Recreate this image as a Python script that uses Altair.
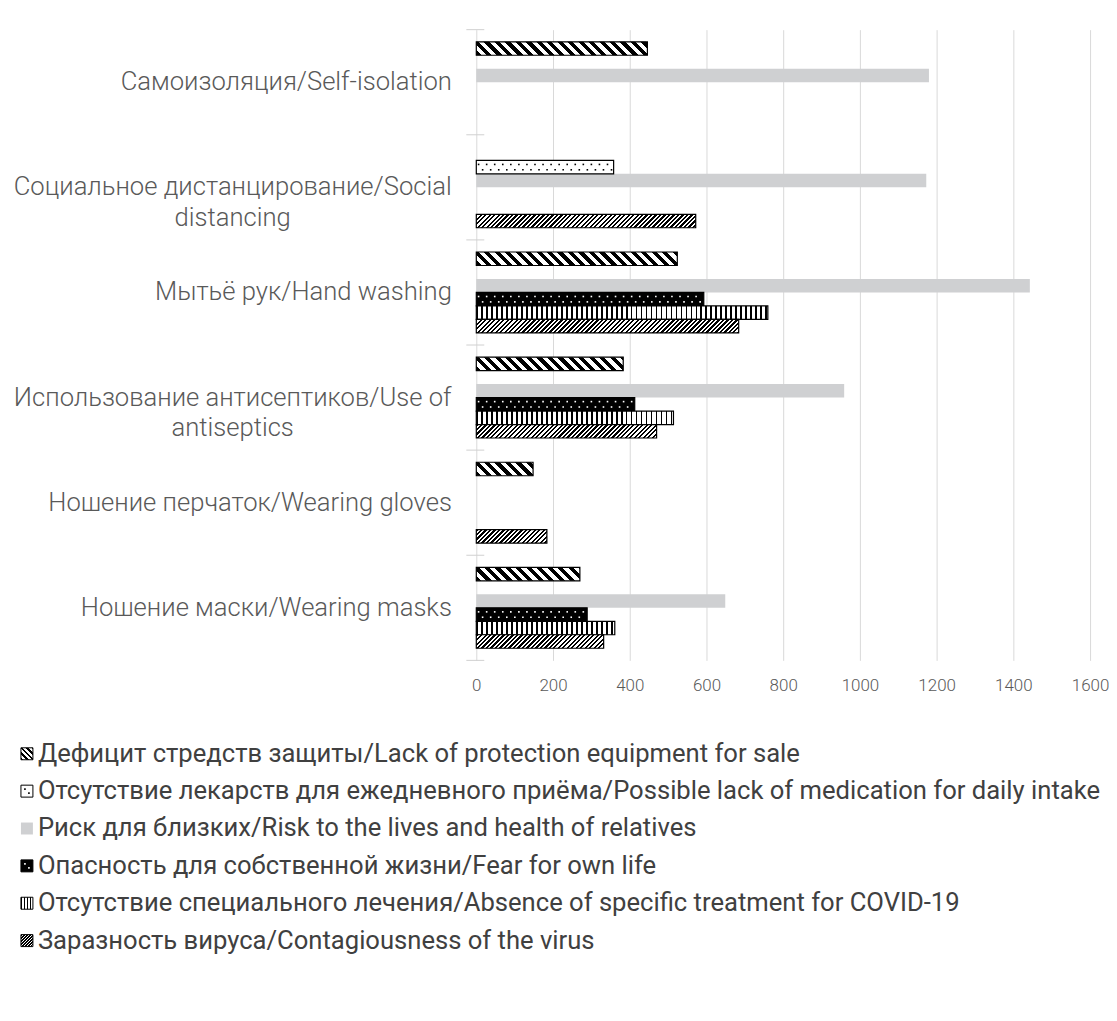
import altair as alt
import pandas as pd

# ---------------- data ----------------
categories = [
    "Самоизоляция/Self-isolation",
    "Социальное дистанцирование/Social|distancing",
    "Мытьё рук/Hand washing",
    "Использование антисептиков/Use of|antiseptics",
    "Ношение перчаток/Wearing gloves",
    "Ношение маски/Wearing masks",
]
series = [
    "Дефицит стредств защиты/Lack of protection equipment for sale",
    "Отсутствие лекарств для ежедневного приёма/Possible lack of medication for daily intake",
    "Риск для близких/Risk to the lives and health of relatives",
    "Опасность для собственной жизни/Fear for own life",
    "Отсутствие специального лечения/Absence of specific treatment for COVID-19",
    "Заразность вируса/Contagiousness of the virus",
]
lack_protection = [446, 0, 524, 383, 148, 270]
lack_medication = [0, 358, 0, 0, 0, 0]
risk_relatives = [1180, 1173, 1443, 959, 0, 649]
fear_own_life = [0, 0, 593, 413, 0, 289]
absence_treatment = [0, 0, 760, 514, 0, 361]
contagiousness = [0, 572, 684, 470, 184, 332]
x_ticks = [0, 200, 400, 600, 800, 1000, 1200, 1400, 1600]

values = [lack_protection, lack_medication, risk_relatives,
          fear_own_life, absence_treatment, contagiousness]
rows = []
for si, vals in enumerate(values):
    for ci, v in enumerate(vals):
        rows.append({"cat": categories[ci], "series": series[si],
                     "ci": ci, "si": si, "value": v})
df = pd.DataFrame(rows)
cat_df = pd.DataFrame({"cat": categories})
leg_df = pd.DataFrame({"series": series, "si": list(range(len(series)))})

# ---------------- layout / style ----------------
PLOT_W, PLOT_H = 616, 633
XMAX = 1600
PAD_OUT = 0.9
BAR_H = PLOT_H / len(categories) / (len(series) + 2 * PAD_OUT)
PX = PLOT_W / XMAX
GRAY = "#cfd0d2"
FONT = "Roboto"
FS = 25.7


def stripe_grad(kind, W, H, period, frac, ink="black", paper="white"):
    if kind == "v":
        x1, y1, x2, y2 = 0, 0, 1, 0
        L = W
    else:
        lam = (W + H) / (W + H * H / W)
        if kind == "back":
            x1, y1, x2, y2 = 0, 1, lam, 1 - lam * H / W
        else:
            x1, y1, x2, y2 = 0, 0, lam, lam * H / W
        L = W + H
    p = period / L
    stops = []
    i = 0
    while i * p < 1:
        a = round(i * p, 5)
        b = round(min((i + frac) * p, 1), 5)
        c = round(min((i + 1) * p, 1), 5)
        stops += [{"offset": a, "color": ink}, {"offset": b, "color": ink},
                  {"offset": b, "color": paper}, {"offset": c, "color": paper}]
        i += 1
    return {"gradient": "linear", "x1": x1, "y1": y1, "x2": x2, "y2": y2,
            "stops": stops}


multi = "indexof(datum.value, '|') >= 0"
yaxis = alt.Axis(
    title=None, domain=False, ticks=False, grid=False,
    labelFont=FONT, labelFontSize=FS, labelFontWeight=300, labelColor="#595959",
    labelLimit=800, labelOverlap=False, labelLineHeight=31,
    labelExpr="split(datum.label, '|')",
    labelAlign={"condition": {"test": multi, "value": "center"}, "value": "right"},
    labelPadding={"condition": {"test": multi, "value": 245}, "value": 25},
)
xaxis = alt.Axis(
    title=None, values=x_ticks, domain=False, ticks=False, grid=True,
    gridColor="#d9d9d9", gridWidth=1, labelFont=FONT, labelFontSize=17,
    labelFontWeight=300, labelColor="#595959", labelPadding=17, format="d",
    labelFlush=False,
)
yscale = alt.Scale(domain=categories, paddingInner=0, paddingOuter=0)
xscale = alt.Scale(domain=[0, XMAX], nice=False)
yoscale = alt.Scale(domain=series, paddingInner=0, paddingOuter=PAD_OUT)


def X(field="value"):
    return alt.X(f"{field}:Q", scale=xscale, axis=xaxis, title=None)


def Y(**kw):
    return alt.Y("cat:N", scale=yscale, axis=yaxis, sort=categories, title=None, **kw)


def YO():
    return alt.YOffset("series:N", scale=yoscale, sort=series)


def bar(filter_expr, **mark):
    return (alt.Chart().mark_bar(**mark)
            .encode(x=X(), y=Y(), yOffset=YO())
            .transform_filter(filter_expr))


def dots(si, color, phase, dy):
    bp = (PAD_OUT + si + 0.5) / (len(series) + 2 * PAD_OUT)
    return (alt.Chart().mark_square(size=2.6, color=color, opacity=1, yOffset=dy)
            .encode(x=X("d"), y=Y(bandPosition=bp))
            .transform_filter(f"datum.si == {si} && datum.value > 0")
            .transform_calculate(d=f"sequence({phase}, datum.value - 3, 21)")
            .transform_flatten(["d"]))


layers = []
# category tick marks on the vertical axis
layers.append(alt.Chart(cat_df).mark_rule(color="#d0d0d0", strokeWidth=1)
              .encode(y=Y(bandPosition=0), x=alt.value(-10), x2=alt.value(8)))
layers.append(alt.Chart(cat_df).mark_rule(color="#d0d0d0", strokeWidth=1)
              .encode(y=Y(bandPosition=1), x=alt.value(-10), x2=alt.value(8))
              .transform_filter(f"datum.cat == '{categories[-1]}'"))

# Risk to relatives: solid gray
layers.append(bar("datum.si == 2 && datum.value > 0", fill=GRAY, strokeWidth=0))

# Lack of protection: wide back-diagonal stripes
for ci, v in enumerate(lack_protection):
    if v > 0:
        layers.append(bar(f"datum.si == 0 && datum.ci == {ci}",
                          fill=stripe_grad("back", v * PX, BAR_H, 10.5, 0.5),
                          stroke="black", strokeWidth=1.2))

# Lack of medication: white with black dots
layers.append(bar("datum.si == 1 && datum.value > 0", fill="white",
                  stroke="black", strokeWidth=1.2))
layers.append(dots(1, "black", 6, -2.7))
layers.append(dots(1, "black", 16.5, 2.7))

# Fear for own life: black with white dots
layers.append(bar("datum.si == 3 && datum.value > 0", fill="black",
                  stroke="black", strokeWidth=1.2))
layers.append(dots(3, "white", 6, -2.7))
layers.append(dots(3, "white", 16.5, 2.7))

# Absence of treatment: vertical lines
for ci, v in enumerate(absence_treatment):
    if v > 0:
        layers.append(bar(f"datum.si == 4 && datum.ci == {ci}",
                          fill=stripe_grad("v", v * PX, BAR_H, 5.0, 0.35),
                          stroke="black", strokeWidth=1.2))

# Contagiousness: fine forward-diagonal hatch
for ci, v in enumerate(contagiousness):
    if v > 0:
        layers.append(bar(f"datum.si == 5 && datum.ci == {ci}",
                          fill=stripe_grad("fwd", v * PX, BAR_H, 4.5, 0.5),
                          stroke="black", strokeWidth=1.2))

main = alt.layer(*layers, data=df).properties(width=PLOT_W, height=PLOT_H)

# ---------------- legend (origin aligned with the plot's left edge) ----------------
SW = 12
SX = -451
TX = -440
ly = alt.Y("series:N", scale=alt.Scale(domain=series, paddingInner=0, paddingOuter=0),
           axis=None, sort=series, title=None)


def swatch(si, fill, stroke="black", sw=1):
    return (alt.Chart().mark_square(size=SW * SW, fill=fill, stroke=stroke,
                                    strokeWidth=sw, opacity=1)
            .encode(x=alt.value(SX), y=ly)
            .transform_filter(f"datum.si == {si}"))


def sw_dot(si, color, dx, dy):
    return (alt.Chart().mark_square(size=2.6, color=color, opacity=1, yOffset=dy)
            .encode(x=alt.value(SX + dx), y=ly)
            .transform_filter(f"datum.si == {si}"))


leg_layers = [
    swatch(0, stripe_grad("back", SW, SW, 5.5, 0.5)),
    swatch(1, "white"),
    sw_dot(1, "black", -2, -2), sw_dot(1, "black", 2, 2),
    swatch(2, GRAY, stroke=GRAY, sw=0),
    swatch(3, "black"),
    sw_dot(3, "white", -2, -2), sw_dot(3, "white", 2, 2),
    swatch(4, stripe_grad("v", SW, SW, 3.0, 0.4)),
    swatch(5, stripe_grad("fwd", SW, SW, 3.0, 0.5)),
    alt.Chart().mark_text(align="left", baseline="middle", font=FONT,
                          fontSize=FS, color="#404040")
    .encode(x=alt.value(TX), y=ly, text="series:N"),
]
legend = alt.layer(*leg_layers, data=leg_df).properties(width=400, height=225)

chart = (alt.vconcat(main, legend, spacing=42)
         .configure_view(stroke=None)
         .properties(padding={"left": 5, "top": 19, "right": 0, "bottom": 5},
                     background="white"))

chart.save("out.html", embed_options={"renderer": "svg", "actions": False})
